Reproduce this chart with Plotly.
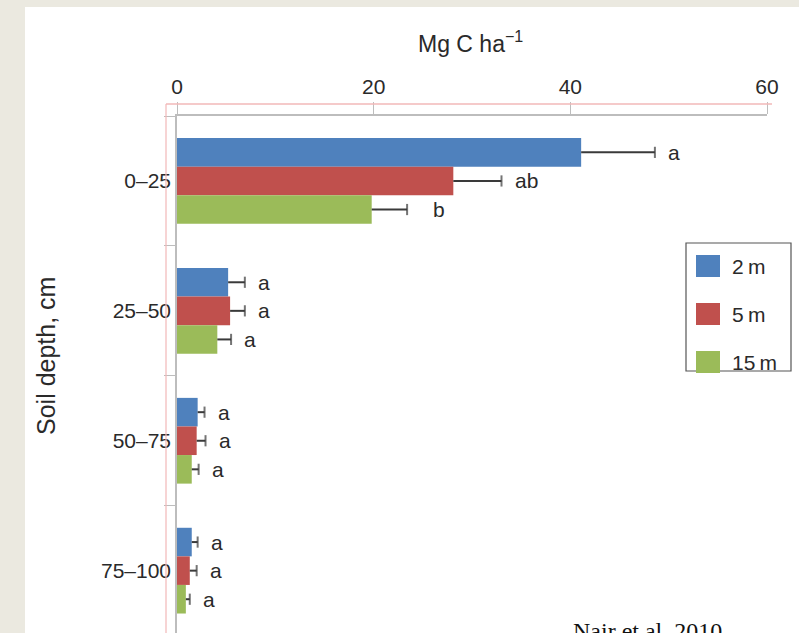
import plotly.graph_objects as go

# Soil organic carbon stock by depth and distance from tree row
depths = ["0–25", "25–50", "50–75", "75–100"]
series_names = ["2 m", "5 m", "15 m"]
carbon_2m = [41.1, 5.2, 2.1, 1.5]
carbon_5m = [28.1, 5.4, 2.0, 1.3]
carbon_15m = [19.8, 4.1, 1.5, 0.9]
err_2m = [7.5, 1.7, 0.7, 0.6]
err_5m = [4.9, 1.5, 0.9, 0.7]
err_15m = [3.6, 1.4, 0.7, 0.4]
letters_2m = ["a", "a", "a", "a"]
letters_5m = ["ab", "a", "a", "a"]
letters_15m = ["b", "a", "a", "a"]
x_ticks = [0, 20, 40, 60]

colors = ["#4F81BD", "#C0504D", "#9BBB59"]
values = [carbon_2m, carbon_5m, carbon_15m]
errors = [err_2m, err_5m, err_15m]
letters = [letters_2m, letters_5m, letters_15m]

FONT = "Liberation Sans, Arial, sans-serif"
TEXT = "#2a2a2a"
ERR = "#3a3a3a"
BARGAP = 0.34

W, H = 799, 633
L, R, T, B = 177, 32, 116, 0
pw, ph = W - L - R, H - T - B


def px_x(px):
    return (px - L) / pw


def px_y(py):
    return (H - B - py) / ph


fig = go.Figure()
for k, (name, vals, col) in enumerate(zip(series_names, values, colors)):
    fig.add_trace(go.Bar(
        y=depths, x=vals, orientation="h", name=name,
        marker=dict(color=col, line=dict(width=0)),
        offsetgroup=str(k), showlegend=False, hoverinfo="x+name",
    ))

# one-sided error bars: a line from the bar end to value + error, capped at the tip
for k, (name, vals, errs) in enumerate(zip(series_names, values, errors)):
    ex, ey, esize = [], [], []
    for d, v, e in zip(depths, vals, errs):
        ex += [v, v + e, None]
        ey += [d, d, None]
        esize += [0, 8, 0]
    fig.add_trace(go.Scatter(
        x=ex, y=ey, mode="lines+markers", orientation="h",
        offsetgroup=str(k), showlegend=False, hoverinfo="skip",
        line=dict(color=ERR, width=2),
        marker=dict(symbol="line-ns", size=esize,
                    line=dict(color=ERR, width=2)),
    ))

# significance letters beside each error bar
slot = (1 - BARGAP) / len(series_names)
annotations = []
for k, (vals, errs, labs) in enumerate(zip(values, errors, letters)):
    for i, (v, e, t) in enumerate(zip(vals, errs, labs)):
        shift = 24 if t == "b" else 11
        annotations.append(dict(
            x=v + e, y=i + (k - 1) * slot, xref="x", yref="y",
            text=t, showarrow=False, xanchor="left", yanchor="middle",
            xshift=shift, font=dict(family=FONT, size=21, color=TEXT),
        ))

annotations += [
    dict(x=px_x(470), y=px_y(42), xref="paper", yref="paper",
         text="Mg C ha<sup>−1</sup>", showarrow=False,
         xanchor="center", yanchor="middle",
         font=dict(family=FONT, size=23, color=TEXT)),
    dict(x=px_x(46), y=px_y(356), xref="paper", yref="paper",
         text="Soil depth, cm", showarrow=False, textangle=-90,
         xanchor="center", yanchor="middle",
         font=dict(family=FONT, size=25, color=TEXT)),
    # source note sitting on the lower edge of the page
    dict(x=px_x(571), y=0, xref="paper", yref="paper", yshift=17,
         text="Nair et al. 2010", showarrow=False,
         xanchor="left", yanchor="top",
         font=dict(family="Liberation Serif, Times New Roman, serif",
                   size=24, color="#111111")),
]

# custom legend box
lx0, ly0, lx1, ly1 = 686, 243, 791, 371
shapes = [
    dict(type="rect", xref="paper", yref="paper",
         x0=px_x(0), x1=px_x(25), y0=px_y(H), y1=px_y(0),
         fillcolor="#EBE9E0", line=dict(width=0), layer="below"),
    dict(type="rect", xref="paper", yref="paper",
         x0=px_x(0), x1=px_x(W), y0=px_y(7), y1=px_y(0),
         fillcolor="#EBE9E0", line=dict(width=0), layer="below"),
    # light red frame lines offset from the axes
    dict(type="line", xref="paper", yref="paper",
         x0=px_x(166), x1=px_x(166), y0=px_y(104), y1=px_y(H),
         line=dict(color="#F2B8B8", width=1.2)),
    dict(type="line", xref="paper", yref="paper",
         x0=px_x(166), x1=px_x(772), y0=px_y(104), y1=px_y(104),
         line=dict(color="#F2B8B8", width=1.5)),
    dict(type="rect", xref="paper", yref="paper",
         x0=px_x(lx0), x1=px_x(lx1), y0=px_y(ly1), y1=px_y(ly0),
         line=dict(color="#555555", width=1.2), fillcolor="white"),
]
for k, (name, col) in enumerate(zip(series_names, colors)):
    cy = 266 + 48 * k
    shapes.append(dict(type="rect", xref="paper", yref="paper",
                       x0=px_x(696), x1=px_x(720), y0=px_y(cy + 11), y1=px_y(cy - 11),
                       fillcolor=col, line=dict(width=0)))
    annotations.append(dict(x=px_x(730), y=px_y(cy), xref="paper", yref="paper",
                            text=name.replace(" ", "\u2009"), showarrow=False,
                            xanchor="left", yanchor="middle",
                            font=dict(family=FONT, size=21, color=TEXT)))

fig.update_layout(
    width=W, height=H,
    margin=dict(l=L, r=R, t=T, b=B),
    paper_bgcolor="white", plot_bgcolor="rgba(0,0,0,0)",
    barmode="group", bargap=BARGAP, bargroupgap=0,
    scattermode="group", scattergap=BARGAP,
    shapes=shapes, annotations=annotations,
    xaxis=dict(
        side="top", range=[0, 60], tickvals=x_ticks,
        showgrid=False, zeroline=False,
        showline=True, linecolor="#bdbdbd", linewidth=1.5,
        ticks="outside", ticklen=12, tickcolor="#bdbdbd", tickwidth=1.2,
        tickfont=dict(family=FONT, size=21, color=TEXT),
    ),
    yaxis=dict(
        categoryorder="array", categoryarray=depths,
        range=[3.48, -0.5],
        showgrid=False, zeroline=False,
        showline=True, linecolor="#bdbdbd", linewidth=1.5,
        ticks="outside", tickson="boundaries", ticklen=11,
        tickcolor="#bdbdbd", tickwidth=1.2,
        tickfont=dict(family=FONT, size=21, color=TEXT),
    ),
)

fig.write_html("out.html")
